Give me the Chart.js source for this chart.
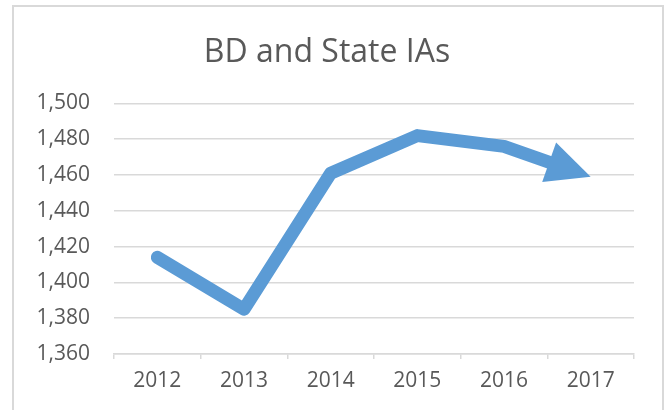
<!DOCTYPE html>
<html>
<head>
<meta charset="utf-8">
<script src="https://cdn.jsdelivr.net/npm/chart.js@4.4.1/dist/chart.umd.min.js"></script>
<style>
  body { margin: 0; background: #fff; }
  #frame { position: absolute; left: 12px; top: 5px; width: 648px; height: 420px; border: 2px solid #d9d9d9; }
  #wrap { position: absolute; left: 0; top: 0; width: 668px; height: 410px; }
</style>
</head>
<body>
<div id="frame"></div>
<div id="wrap"><canvas id="iaChart" width="668" height="410"></canvas></div>
<script>
// BD and State IAs, yearly totals
const years = ['2012', '2013', '2014', '2015', '2016', '2017'];
const iaCounts = [1414, 1385, 1461, 1482, 1476, 1459];
const yMin = 1360, yMax = 1500, yStep = 20;

const lineBlue = '#5b9bd5';
const textGrey = '#595959';
const gridGrey = '#d9d9d9';

// draws the arrow head at the last point, line is pulled back so it ends inside the head
const arrowEnd = {
  id: 'arrowEnd',
  beforeDatasetDraw(chart, args) {
    const meta = args.meta;
    const pts = meta.data;
    const n = pts.length;
    const a = pts[n - 2], b = pts[n - 1];
    const dx = b.x - a.x, dy = b.y - a.y;
    const len = Math.sqrt(dx * dx + dy * dy);
    this._saved = { x: b.x, y: b.y };
    b.x = b.x - dx / len * 30;
    b.y = b.y - dy / len * 30;
    meta.dataset._path = undefined;
  },
  afterDatasetDraw(chart, args) {
    const pts = args.meta.data;
    const n = pts.length;
    const b = pts[n - 1];
    b.x = this._saved.x;
    b.y = this._saved.y;
    const xs = chart.scales.x, ys = chart.scales.y;
    const tipX = xs.getPixelForValue(n - 1), tipY = ys.getPixelForValue(iaCounts[n - 1]);
    const prevX = xs.getPixelForValue(n - 2), prevY = ys.getPixelForValue(iaCounts[n - 2]);
    const dx = tipX - prevX, dy = tipY - prevY;
    const len = Math.sqrt(dx * dx + dy * dy);
    const ux = dx / len, uy = dy / len;
    const headLen = 44, halfW = 21;
    const bx = tipX - ux * headLen, by = tipY - uy * headLen;
    const ctx = chart.ctx;
    ctx.save();
    ctx.fillStyle = lineBlue;
    ctx.beginPath();
    ctx.moveTo(tipX, tipY);
    ctx.lineTo(bx - uy * halfW, by + ux * halfW);
    ctx.lineTo(bx + uy * halfW, by - ux * halfW);
    ctx.closePath();
    ctx.fill();
    ctx.restore();
  }
};

new Chart('iaChart', {
  type: 'line',
  data: {
    labels: years,
    datasets: [{
      data: iaCounts,
      borderColor: lineBlue,
      borderWidth: 13,
      borderJoinStyle: 'round',
      borderCapStyle: 'round',
      pointRadius: 0,
      tension: 0,
      fill: false
    }]
  },
  options: {
    responsive: false,
    animation: false,
    layout: { padding: { left: 20, right: 34, top: 0, bottom: 0 } },
    plugins: {
      legend: { display: false },
      tooltip: { enabled: false },
      title: {
        display: true,
        text: 'BD and State IAs',
        color: textGrey,
        font: { family: 'Open Sans', size: 32, weight: 'normal' },
        padding: { top: 34, bottom: 31 }
      }
    },
    scales: {
      x: {
        offset: true,
        grid: { offset: true, drawOnChartArea: false, drawTicks: true, tickLength: 5, color: gridGrey, lineWidth: 1.5 },
        border: { display: true, color: gridGrey, width: 1.5 },
        ticks: { color: textGrey, font: { family: 'Open Sans', size: 21 }, padding: 9, maxRotation: 0 },
        afterFit(scale) { scale.height = 56; }
      },
      y: {
        min: yMin,
        max: yMax,
        ticks: { stepSize: yStep, color: textGrey, font: { family: 'Open Sans', size: 21 }, padding: 24 },
        grid: { color: gridGrey, lineWidth: 1.5, drawTicks: false },
        border: { display: false },
        afterFit(scale) { scale.width = 94; }
      }
    }
  },
  plugins: [arrowEnd]
});
</script>
</body>
</html>
